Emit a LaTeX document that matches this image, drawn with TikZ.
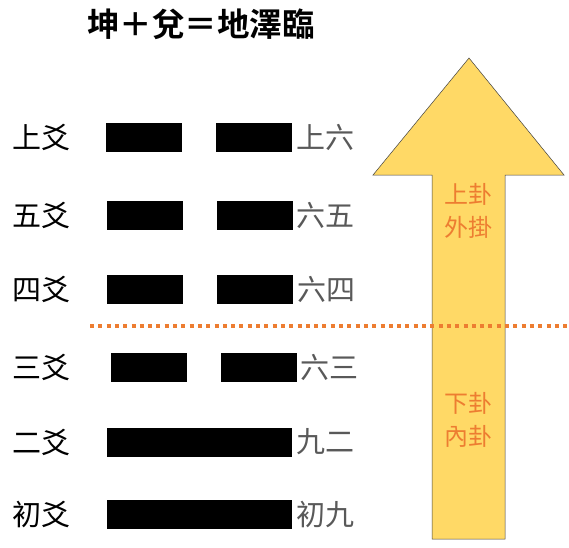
\documentclass[tikz,border=0pt]{standalone}
\usepackage{fontspec}
\usepackage{tikz}
\usetikzlibrary{positioning,calc}
\newfontfamily\cjk{Noto Sans CJK TC}
\newfontfamily\cjkbold{Noto Sans CJK TC Bold}
\definecolor{yaogray}{RGB}{89,89,89}
\definecolor{guaorange}{RGB}{237,125,49}
\definecolor{arrowgold}{RGB}{255,217,102}

\begin{document}
\begin{tikzpicture}[x=1pt,y=-1pt,
    yaobar/.style={fill=black, draw=none, inner sep=0pt, minimum height=29pt},
    yaoname/.style={font=\cjk\fontsize{29}{29}\selectfont, inner sep=0pt},
    yaovalue/.style={font=\cjk\fontsize{29}{29}\selectfont, text=yaogray, inner sep=0pt},
    guatext/.style={font=\cjk\fontsize{24}{33}\selectfont, text=guaorange, align=center, inner sep=0pt},
    divider/.style={guaorange, line width=4pt, dash pattern=on 4pt off 4.3pt}]
    \useasboundingbox (0,0) rectangle (569,547);

    % Title
    \node[font=\cjkbold\fontsize{32.5}{32.5}\selectfont, inner sep=0pt] (title) at (201,24) {坤＋兌＝地澤臨};

    % Arrow (upper and lower trigram)
    \draw[fill=arrowgold, draw=black!75, line width=0.5pt]
        (432,539) -- (432,175) -- (373,175) -- (469,58) -- (564,175) -- (505,175) -- (505,539) -- cycle;
    \node[guatext] (upper) at (468,211) {上卦\\外掛};
    \node[guatext] (lower) at (468,420) {下卦\\內卦};

    % Yin lines
    \foreach \n/\name/\val/\y/\dx in {6/上爻/上六/137.5/0, 5/五爻/六五/215.5/0.5, 4/四爻/六四/289/1, 3/三爻/六三/367.5/4.5} {
        \node[yaoname] (name\n) at (41.5,\y) {\name};
        \node[yaobar, minimum width=76pt] (bar\n l) at (144+\dx,\y) {};
        \node[yaobar, minimum width=76pt] (bar\n r) at (254+\dx,\y) {};
        \node[yaovalue, right=4pt of bar\n r] (val\n) {\val};
    }

    % Yang lines
    \foreach \n/\name/\val/\y in {2/二爻/九二/442, 1/初爻/初九/514.5} {
        \node[yaoname] (name\n) at (41.5,\y) {\name};
        \node[yaobar, minimum width=185pt] (bar\n) at (199.5,\y) {};
        \node[yaovalue, right=4pt of bar\n] (val\n) {\val};
    }

    % Divider between trigrams
    \coordinate (divl) at (90,326);
    \coordinate (divr) at (569,326);
    \draw[divider] (divl) -- (divr);
\end{tikzpicture}
\end{document}
